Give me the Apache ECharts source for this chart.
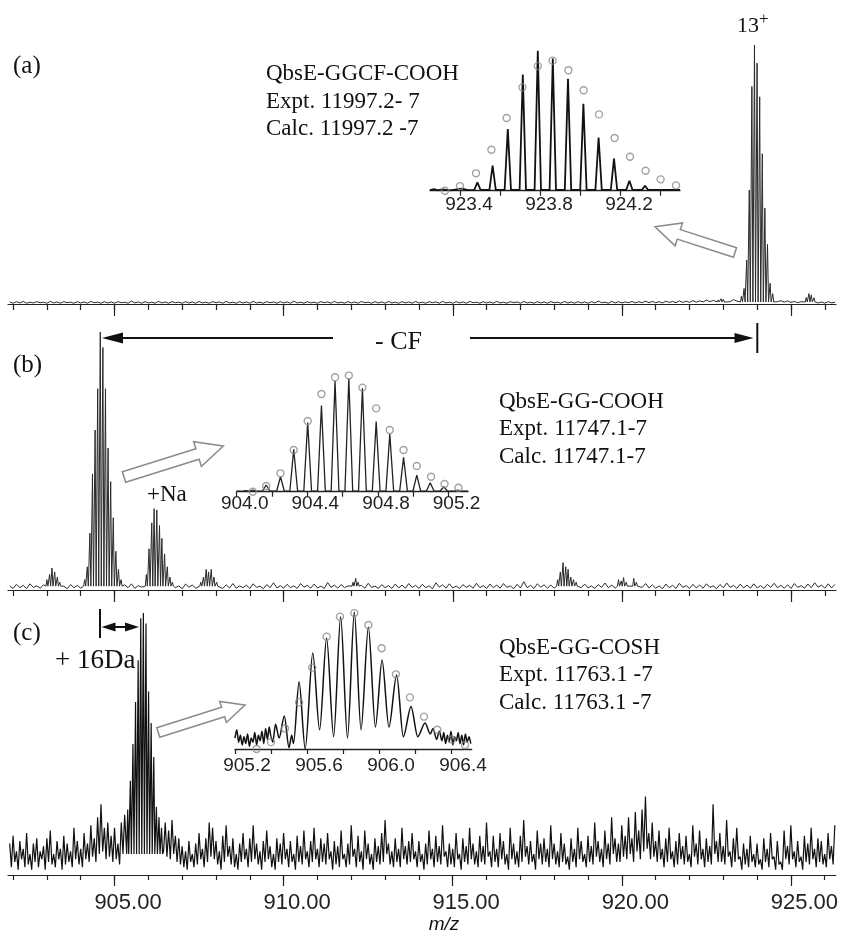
<!DOCTYPE html>
<html><head><meta charset="utf-8">
<script src="https://cdn.jsdelivr.net/npm/echarts@6/dist/echarts.min.js"></script>
<style>html,body{margin:0;padding:0;background:#fff}#c{width:841px;height:933px}</style>
</head><body><div id="c"></div>
<script>
// ---------------- DATA ----------------
const XMIN = 901.85, XMAX = 926.33;
const minorTicks = [902,903,904,905,906,907,908,909,910,911,912,913,914,915,916,917,918,919,920,921,922,923,924,925,926];
const majorTicks = [905,910,915,920,925];

// panel (a): 13+ isotope cluster [m/z, rel. intensity]
const clusterA = [[923.535,3],[923.612,6],[923.689,17],[923.766,44],[923.843,84],[923.92,100],[923.997,93],[924.074,80],[924.151,58],[924.228,37],[924.305,23],[924.382,8],[924.459,4]];
const smallA1 = [[922.85,1.6],[922.93,2.0],[923.0,1.8],[923.08,1.5]];
const smallA2 = [[925.45,2.5],[925.53,4],[925.6,3.5],[925.68,2.4]];
// baseline noise (a), from 901.9 step 0.1
const noiseA = [
 .8,.3,.9,.4,1.0,.3,.7,.4,.9,.5,
 .7,.3,1.0,.4,.8,.3,.9,.5,.7,.3,
 .9,.4,.8,.3,1.0,.5,.7,.3,.9,.4,
 .8,.3,.9,.5,.7,.3,1.1,.4,.8,.3,
 .9,.4,.7,.3,1.0,.4,.8,.3,.9,.5,
 .7,.3,.9,.4,.8,.3,1.0,.4,.7,.3,
 .9,.5,.8,.3,1.0,.4,.7,.3,.9,.4,
 .8,.3,1.0,.4,.7,.3,.9,.5,.8,.3,
 .9,.4,.8,.3,1.1,.4,.7,.3,.9,.4,
 .7,.3,.9,.5,.8,.3,1.0,.4,.7,.3,
 .9,.4,.8,.3,1.0,.5,.7,.3,.9,.4,
 .8,.3,1.0,.4,.7,.3,.9,.4,.8,.3,
 1.0,.4,.7,.3,.9,.5,.8,.3,1.0,.4,
 .7,.3,.9,.4,.8,.3,1.0,.5,.7,.3,
 .9,.4,.8,.3,1.0,.4,.7,.3,.9,.5,
 .8,.3,1.0,.4,.7,.3,.9,.4,.8,.3,
 .9,.5,.7,.3,1.0,.4,.8,.3,.9,.4,
 .8,.3,.9,.4,1.1,.5,.7,.3,1.0,.4,
 .9,.4,.8,.5,1.0,.4,.9,.5,1.1,.5,
 1.0,.5,.9,.4,1.1,.6,1.0,.5,1.2,.6,
 1.1,.6,1.3,.7,1.2,.8,1.5,.9,1.4,.8,
 1.6,1.0,1.4,.9,1.7,1.1,1.5,1.0,1.6,1.2,
 1.4,1.2,1.3,1.1,1.2,1.0,1.1,.9,1.3,.7,
 1.2,.6,1.0,.5,.9,.4,1.0,.5,.8,.4,
 .8,.3,.9,.4,.7];

// panel (b)
const clusterB = [[904.117,4],[904.194,9],[904.271,22],[904.348,45],[904.425,62],[904.502,78],[904.578,100],[904.655,94],[904.732,78],[904.809,55],[904.886,42],[904.963,28],[905.04,15],[905.117,8],[905.194,4]];
const clusterNa = [[905.94,6],[906.02,16],[906.1,26],[906.17,31.5],[906.25,31],[906.33,25],[906.40,20],[906.48,14],[906.56,9],[906.64,5],[906.71,3]];
const smallB1 = [[903.0,4],[903.08,6],[903.15,8.5],[903.23,7],[903.31,5],[903.38,3]];
const smallB2 = [[907.55,3],[907.63,5],[907.71,8],[907.78,7],[907.86,8],[907.94,5],[908.02,3]];
const smallB3 = [[912.05,3],[912.13,4.5],[912.2,3]];
const smallB4 = [[918.1,4],[918.18,7],[918.26,10.6],[918.34,9],[918.41,8],[918.49,5],[918.57,4],[918.65,3]];
const smallB5 = [[919.9,4],[919.98,3.5],[920.05,4.8],[920.13,3],[920.35,4.5],[920.43,3]];
// noise (b), from 901.9 step 0.1
const noiseB = [
 1.5,0.6,2.2,0.9,1.8,0.5,2.4,1.0,1.6,0.7,
 2.0,0.8,1.7,0.6,2.3,1.1,1.5,0.5,2.1,0.9,
 1.8,0.7,2.5,1.0,1.4,0.6,2.2,0.8,1.9,0.5,
 2.3,1.0,1.6,0.7,2.0,0.9,2.4,0.6,1.7,1.1,
 2.1,0.8,1.5,0.6,2.6,1.0,1.8,0.7,2.2,0.9,
 1.6,0.5,2.3,1.1,1.9,0.7,2.7,0.9,1.5,0.6,
 2.2,1.0,1.7,0.6,2.0,0.8,2.5,0.7,1.6,0.9,
 1.9,0.6,2.4,1.0,1.5,0.5,2.1,0.9,2.8,0.8,
 1.7,0.7,2.2,0.9,1.6,0.6,2.5,1.1,1.8,0.7,
 2.3,0.8,1.5,0.6,2.9,1.0,1.9,0.7,2.1,0.9,
 1.6,0.5,2.4,0.9,1.8,0.7,2.6,1.0,1.5,0.6,
 2.1,0.9,1.7,0.6,2.3,0.8,1.9,0.7,2.5,1.0,
 1.8,0.6,2.2,0.9,1.6,0.5,2.8,1.1,2.0,0.7,
 2.4,0.8,1.5,0.6,2.1,1.0,1.8,0.7,2.6,0.9,
 1.7,0.6,2.3,0.9,1.9,0.7,2.5,1.0,1.6,0.5,
 2.2,0.8,3.2,0.9,1.8,0.6,2.4,1.1,2.0,0.7,
 1.9,0.7,2.6,1.0,1.7,0.6,2.2,0.8,1.8,0.9,
 2.3,0.8,1.6,0.6,2.1,1.0,2.7,0.9,1.9,0.7,
 1.8,0.6,2.4,0.9,1.7,0.7,2.2,1.0,2.5,0.8,
 2.0,0.7,1.6,0.5,2.3,0.9,1.8,0.6,2.6,1.0,
 1.7,0.6,2.2,0.8,1.9,0.7,2.4,1.0,1.6,0.5,
 2.1,0.9,2.7,1.0,1.8,0.6,2.3,0.8,1.9,0.7,
 2.4,0.8,1.7,0.6,2.2,1.0,2.6,0.9,1.8,0.7,
 2.0,0.6,2.5,1.0,1.7,0.7,2.3,0.9,2.8,1.1,
 1.9,0.7,2.4,0.8,2.2];

// panel (c)
const clusterC = [[905.39,25],[905.468,36],[905.545,50],[905.622,66],[905.699,82],[905.776,98],[905.853,100],[905.93,96],[906.007,70],[906.084,58],[906.161,45],[906.238,26],[906.315,22],[906.39,18]];
// noise (c), from 901.9 step 0.05
const noiseC = [
 12,3,15,5,9,2,13,6,10,3,16,4,8,2,12,5,14,3,9,6,
 11,2,14,5,17,4,8,3,13,6,10,2,15,4,12,5,9,3,18,6,
 13,4,10,3,16,6,12,5,19,7,14,5,22,8,27,9,18,6,20,7,
 15,5,18,6,12,4,20,8,23,10,15,8,15,8,15,8,15,8,15,8,
 15,8,15,8,15,8,15,8,15,8,18,9,20,7,17,6,21,8,15,5,
 14,4,11,3,9,2,13,5,8,3,12,4,16,6,10,3,14,5,20,7,
 18,6,13,4,9,2,15,5,19,7,11,4,14,3,8,2,12,5,16,6,
 10,3,14,5,19,6,12,4,9,2,13,5,17,6,11,3,8,2,14,5,
 12,4,16,6,10,3,13,5,8,2,15,5,11,4,17,6,9,3,13,5,
 18,6,10,3,14,5,12,4,16,6,9,2,13,4,11,3,17,6,8,3,
 12,4,19,7,10,3,15,5,9,2,17,6,12,4,8,2,14,5,11,4,
 16,5,21,8,12,4,9,3,14,5,10,3,18,6,11,4,13,5,16,6,
 9,3,13,5,8,2,12,4,17,6,10,3,15,5,11,4,19,7,9,3,
 12,4,10,3,16,6,8,2,14,5,11,4,18,6,12,4,9,3,15,5,
 11,4,20,7,9,3,15,5,10,3,16,6,13,4,8,2,18,6,12,4,
 9,3,15,5,21,7,11,4,13,5,8,2,17,6,12,4,14,5,10,3,
 19,6,12,4,9,3,16,5,12,4,7,2,14,5,10,3,18,6,13,5,
 8,3,15,5,11,4,20,7,13,5,10,3,17,6,12,4,22,8,14,5,
 12,5,19,7,15,6,22,8,14,5,24,9,17,6,25,9,30,10,16,6,
 20,7,13,5,17,6,10,3,14,5,18,6,9,3,13,4,16,6,11,4,
 15,5,8,3,19,7,12,4,17,6,10,3,14,5,11,4,27,8,13,5,
 16,5,11,4,21,7,9,3,14,5,18,6,7,2,12,4,10,3,15,5,
 8,3,12,4,6,2,14,5,10,3,16,6,7,2,13,4,5,2,17,6,
 11,4,19,6,9,3,13,5,7,2,15,5,12,4,18,6,10,3,14,5,
 13,4,8,3,16,6,11,4,19];

// inset (a)
const insetATicks = [923.4,923.6,923.8,924.0,924.2,924.4];
const insetALabels = [923.4,923.8,924.2];
const insetAExpt = [[923.487,6],[923.563,18],[923.639,44],[923.714,83],[923.789,100],[923.864,94.5],[923.94,80],[924.017,62],[924.093,38],[924.17,23],[924.247,7],[924.325,3.6]];
const insetANoise = [[923.27,1.2],[923.29,0.2],[923.31,1.0],[923.35,0.3],[923.41,1.5],[923.44,0.4]];
const insetACalc = [[923.325,0],[923.4,3.3],[923.48,12.4],[923.557,29.3],[923.633,51.9],[923.712,73.8],[923.789,89],[923.863,92.9],[923.942,86],[924.018,71.7],[924.095,54.5],[924.173,37.6],[924.25,24.3],[924.328,14.3],[924.403,8.1],[924.48,3.8]];

// inset (b)
const insetBTicks = [904.0,904.2,904.4,904.6,904.8,905.0,905.2];
const insetBLabels = [904.0,904.4,904.8,905.2];
const insetBExpt = [[904.091,1.5],[904.167,5.9],[904.248,13.2],[904.323,37.4],[904.402,60.9],[904.480,75.9],[904.557,97.6],[904.635,100],[904.712,91.2],[904.790,61.8],[904.867,50.9],[904.945,30.3],[905.020,14.7],[905.096,7.9],[905.173,4.4],[905.252,1.5]];
const insetBNoise = [[904.01,1.2],[904.03,0.2],[904.05,1.0],[904.06,0.3]];
const insetBCalc = [[904.091,0],[904.167,5],[904.248,16.2],[904.323,36.8],[904.402,62.4],[904.480,86.2],[904.557,100.9],[904.635,102.4],[904.712,91.8],[904.790,73.5],[904.867,54.4],[904.945,36.8],[905.020,22.6],[905.101,13.2],[905.177,6.8],[905.256,3.5]];

// inset (c): measured trace [m/z, intensity]
const insetCTicks = [905.2,905.4,905.6,905.8,906.0,906.2,906.4];
const insetCLabels = [905.2,905.6,906.0,906.4];
const insetCExpt = [[905.20,8],[905.21,14],[905.22,5],[905.23,10],[905.24,3],[905.25,9],[905.26,4],[905.27,11],[905.28,2],[905.29,8],[905.30,5],[905.31,12],[905.32,3],[905.33,10],[905.34,6],[905.35,13],[905.36,4],[905.37,15],[905.38,7],[905.39,16],[905.40,9],[905.41,5],[905.425,18],[905.445,8],[905.474,24],[905.50,1],[905.515,10],[905.525,4],[905.556,49],[905.59,0],[905.632,70],[905.67,14],[905.709,81],[905.748,9],[905.787,96.5],[905.825,8],[905.863,100],[905.90,14],[905.941,89],[905.98,16],[906.017,65],[906.055,16],[906.098,54],[906.135,9],[906.178,31],[906.215,9],[906.256,19],[906.285,11],[906.30,15],[906.32,7],[906.335,13],[906.35,6],[906.36,12],[906.37,4],[906.38,10],[906.39,5],[906.40,13],[906.41,3],[906.42,9],[906.43,6],[906.44,12],[906.45,4],[906.46,10],[906.47,3],[906.48,11],[906.49,5],[906.50,9],[906.51,4]];
const insetCCalc = [[905.32,0],[905.40,5],[905.478,15],[905.556,34],[905.629,59.4],[905.709,82],[905.783,96.6],[905.863,99.2],[905.941,90.5],[906.015,73.5],[906.094,54.5],[906.172,37.7],[906.25,23.6],[906.324,14],[906.404,7],[906.478,2.9]];

// ---------------- BUILD ----------------
function buildTrace(noise, start, step, clusters, hw) {
  const wins = clusters.map(c => [c.peaks[0][0] - hw, c.peaks[c.peaks.length - 1][0] + hw]);
  const pts = [];
  noise.forEach((v, i) => {
    const x = +(start + i * step).toFixed(3);
    if (!wins.some(w => x >= w[0] - step / 2 && x <= w[1] + step / 2)) pts.push([x, v]);
  });
  clusters.forEach(c => c.peaks.forEach(p => {
    pts.push([p[0] - hw, c.base], [p[0], p[1]], [p[0] + hw, c.base]);
  }));
  pts.sort((a, b) => a[0] - b[0]);
  return pts;
}
function buildInset(peaks, hw, base, min, max, extra) {
  const pts = [[min, base], [max, base]].concat(extra);
  peaks.forEach(p => pts.push([p[0] - hw, base], [p[0], p[1]], [p[0] + hw, base]));
  pts.sort((a, b) => a[0] - b[0]);
  return pts;
}
const traceA = buildTrace(noiseA, 901.9, 0.1, [
  {peaks: smallA1, base: 0.8}, {peaks: clusterA, base: 0.8}, {peaks: smallA2, base: 0.8}], 0.03);
const traceB = buildTrace(noiseB, 901.9, 0.1, [
  {peaks: smallB1, base: 1.5}, {peaks: clusterB, base: 1.5}, {peaks: clusterNa, base: 1.5},
  {peaks: smallB2, base: 1.5}, {peaks: smallB3, base: 1.5}, {peaks: smallB4, base: 1.5}, {peaks: smallB5, base: 1.5}], 0.03);
const traceC = buildTrace(noiseC, 901.9, 0.05, [{peaks: clusterC, base: 8}], 0.03);
const inA = buildInset(insetAExpt, 0.016, 0.5, 923.25, 924.5, insetANoise);
const inB = buildInset(insetBExpt, 0.022, 0.4, 904.0, 905.31, insetBNoise);

// ---------------- OPTION ----------------
const AX = '#222';
const sans = 'Liberation Sans', serif = 'Liberation Serif';
function mainAxes(gi, showLabels, majLen, minLen) {
  return [
    {type: 'value', gridIndex: gi, position: 'bottom', min: XMIN, max: XMAX,
     axisLine: {show: true, onZero: false, lineStyle: {color: AX, width: 1.2}},
     axisTick: {show: true, customValues: minorTicks, length: minLen, lineStyle: {color: AX, width: 1.2}},
     axisLabel: {show: false}, splitLine: {show: false}},
    {type: 'value', gridIndex: gi, position: 'bottom', min: XMIN, max: XMAX,
     axisLine: {show: false, onZero: false},
     axisTick: {show: true, customValues: majorTicks, length: majLen, lineStyle: {color: AX, width: 1.2}},
     axisLabel: {show: showLabels, customValues: majorTicks, formatter: v => v.toFixed(2),
       fontFamily: sans, fontSize: 22, color: '#222', margin: 17, padding: [0, 0, 0, 27]},
     splitLine: {show: false}}
  ];
}
function insetAxis(gi, min, max, ticks, labels, pad, margin) {
  return {type: 'value', gridIndex: gi, position: 'bottom', min: min, max: max,
    axisLine: {show: true, onZero: false, lineStyle: {color: AX, width: 1.3}},
    axisTick: {show: true, customValues: ticks, length: 5, lineStyle: {color: AX, width: 1.2}},
    axisLabel: {show: true, customValues: labels, formatter: v => v.toFixed(1),
      fontFamily: sans, fontSize: 19, color: '#222', margin: margin, padding: [0, 0, 0, pad]},
    splitLine: {show: false}};
}
const grids = [
  {left: 8, width: 828, top: 45, height: 259},
  {left: 8, width: 828, top: 332, height: 258},
  {left: 8, width: 828, top: 613, height: 262},
  {left: 430, width: 250, top: 50.7, height: 140},
  {left: 236.7, width: 231.3, top: 378.3, height: 113.4},
  {left: 235, width: 236.7, top: 612, height: 137}
];
const xAxes = [].concat(mainAxes(0, false, 12, 6), mainAxes(1, false, 12, 6), mainAxes(2, true, 11, 5),
  [insetAxis(3, 923.25, 924.5, insetATicks, insetALabels, 18, 5),
   insetAxis(4, 904.0, 905.31, insetBTicks, insetBLabels, 16, 3),
   insetAxis(5, 905.2, 906.515, insetCTicks, insetCLabels, 24, 7)]);
const yAxes = grids.map((g, i) => ({type: 'value', gridIndex: i, min: 0, max: 100, show: false}));

function lineS(xi, yi, data, color, width, extra) {
  return Object.assign({type: 'line', xAxisIndex: xi, yAxisIndex: yi, data: data, showSymbol: false,
    symbol: 'none', lineStyle: {color: color, width: width}, silent: true, z: 2}, extra || {});
}
function calcS(xi, yi, data) {
  return {type: 'scatter', xAxisIndex: xi, yAxisIndex: yi, data: data, symbol: 'circle', symbolSize: 7,
    clip: false, silent: true, z: 4,
    itemStyle: {color: 'rgba(0,0,0,0)', borderColor: '#8a8a8a', borderWidth: 1.4}};
}
const series = [
  lineS(0, 0, traceA, '#2a2a2a', 1),
  lineS(2, 1, traceB, '#2a2a2a', 1),
  lineS(4, 2, traceC, '#111', 1.2),
  lineS(6, 3, inA, '#111', 1.8),
  calcS(6, 3, insetACalc),
  lineS(7, 4, inB, '#222', 1.3),
  calcS(7, 4, insetBCalc),
  lineS(8, 5, insetCExpt, '#111', 1.5, {smooth: 0.3, smoothMonotone: 'x'}),
  calcS(8, 5, insetCCalc)
];

// ---------------- ANNOTATIONS ----------------
function txt(s, x, y, size, fam, extra) {
  return {type: 'text', silent: true, z: 10, style: Object.assign({text: s, x: x, y: y,
    font: size + 'px "' + (fam || serif) + '"', fill: '#111', verticalAlign: 'middle', align: 'left'}, extra || {})};
}
function hollowArrow(tail, tip, shw, hhw, hl) {
  const dx = tip[0] - tail[0], dy = tip[1] - tail[1], L = Math.hypot(dx, dy);
  const ux = dx / L, uy = dy / L, nx = -uy, ny = ux;
  const bx = tip[0] - ux * hl, by = tip[1] - uy * hl;
  const pts = [[tail[0] + nx * shw, tail[1] + ny * shw], [bx + nx * shw, by + ny * shw], [bx + nx * hhw, by + ny * hhw],
    tip, [bx - nx * hhw, by - ny * hhw], [bx - nx * shw, by - ny * shw], [tail[0] - nx * shw, tail[1] - ny * shw]];
  return {type: 'polygon', silent: true, z: 10, shape: {points: pts}, style: {fill: '#fff', stroke: '#8a8a8a', lineWidth: 1.5}};
}
function line(x1, y1, x2, y2, w) {
  return {type: 'line', silent: true, z: 10, shape: {x1: x1, y1: y1, x2: x2, y2: y2}, style: {stroke: '#111', lineWidth: w || 2}};
}
function head(tipX, y, dir, len, hw) {
  return {type: 'polygon', silent: true, z: 10, shape: {points: [[tipX, y], [tipX - dir * len, y - hw], [tipX - dir * len, y + hw]]}, style: {fill: '#111'}};
}
const graphic = [
  txt('(a)', 13, 66, 25), txt('(b)', 13, 365, 25), txt('(c)', 13, 633, 25),
  txt('QbsE-GGCF-COOH', 266, 74, 23), txt('Expt. 11997.2- 7', 266, 101.5, 23), txt('Calc. 11997.2 -7', 266, 129, 23),
  txt('13', 737, 26, 22), txt('+', 759, 20, 17),
  txt('QbsE-GG-COOH', 499, 401.5, 23), txt('Expt. 11747.1-7', 499, 429, 23), txt('Calc. 11747.1-7', 499, 456.5, 23),
  txt('QbsE-GG-COSH', 499, 647.5, 23), txt('Expt. 11763.1 -7', 499, 675, 23), txt('Calc. 11763.1 -7', 499, 703, 23),
  txt('+Na', 147, 495, 23),
  txt('- CF', 375, 342.5, 26),
  txt('+ 16Da', 55, 661, 27),
  txt('m/z', 444, 925, 19, sans, {align: 'center', font: 'italic 19px "Liberation Sans"'}),
  hollowArrow([735, 252.5], [655, 226.7], 5, 12, 25),
  hollowArrow([124, 477], [223.3, 446], 5.5, 13, 27),
  hollowArrow([158.3, 732.5], [245, 705], 5, 11, 23),
  line(333, 338, 118, 338), head(102, 338, -1, 21, 5.5),
  line(470, 338, 738, 338), head(753.5, 338, 1, 19, 5),
  line(757.3, 323, 757.3, 353),
  line(100, 609, 100, 638), line(112, 627, 128, 627), head(101.5, 627, -1, 14, 4.5), head(139, 627, 1, 14, 4.5)
];

const chart = echarts.init(document.getElementById('c'), null, {renderer: 'canvas'});
chart.setOption({animation: false, backgroundColor: '#fff', grid: grids, xAxis: xAxes, yAxis: yAxes, series: series, graphic: graphic});
</script></body></html>
